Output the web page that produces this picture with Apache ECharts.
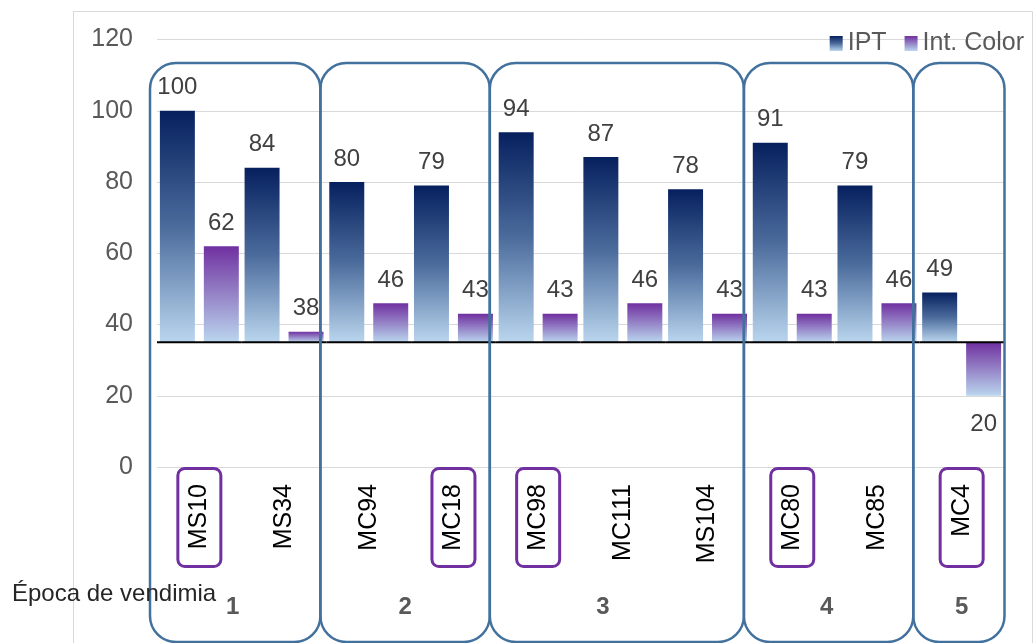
<!DOCTYPE html>
<html>
<head>
<meta charset="utf-8">
<script src="https://cdn.jsdelivr.net/npm/echarts@6/dist/echarts.min.js"></script>
<style>
  html, body { margin: 0; padding: 0; background: #fff; }
  #chart { width: 1034px; height: 643px; }
</style>
</head>
<body>
<div id="chart"></div>
<script>
// Clones and their values
const categories = ['MS10', 'MS34', 'MC94', 'MC18', 'MC98', 'MC111', 'MS104', 'MC80', 'MC85', 'MC4'];
const iptValues = [100, 84, 80, 79, 94, 87, 78, 91, 79, 49];
const colorValues = [62, 38, 46, 43, 43, 46, 43, 43, 46, 20];
const seriesNames = ['IPT', 'Int. Color'];

// Clones framed in purple
const highlighted = ['MS10', 'MC18', 'MC98', 'MC80', 'MC4'];

// Harvest periods: label and number of clones in each
const groupLabels = ['1', '2', '3', '4', '5'];
const groupSizes = [2, 2, 3, 2, 1];

// Value axis ticks and the level the bars grow from
const yTicks = [0, 20, 40, 60, 80, 100, 120];
const baseline = 35;

const FONT = '"Liberation Sans", Arial, sans-serif';

const iptFill = {
  type: 'linear', x: 0, y: 0, x2: 0, y2: 1,
  colorStops: [
    { offset: 0, color: '#06205e' },
    { offset: 0.5, color: '#4b6b9c' },
    { offset: 1, color: '#bad6ee' }
  ]
};
const colorFill = {
  type: 'linear', x: 0, y: 0, x2: 0, y2: 1,
  colorStops: [
    { offset: 0, color: '#7030a0' },
    { offset: 1, color: '#bad6ee' }
  ]
};

// Bars drawn from the baseline level to each value; side -1 = left bar, +1 = right bar
function barRenderer(side, fill, withBaseline) {
  return function (params, api) {
    const i = api.value(0);
    const v = api.value(1);
    const base = api.coord([i, baseline]);
    const end = api.coord([i, v]);
    const band = api.size([1, 0])[0];
    const w = band * 0.413;
    const half = band * 0.053;
    const x = side < 0 ? base[0] - half - w : base[0] + half;
    const y = Math.min(base[1], end[1]);
    const h = Math.abs(base[1] - end[1]);
    const up = v >= baseline;
    const children = [
      { type: 'rect', shape: { x: x, y: y, width: w, height: h }, style: { fill: fill } },
      {
        type: 'text',
        style: {
          text: String(v), x: x + w / 2, y: up ? end[1] - 23 : end[1] + 29,
          align: 'center', verticalAlign: 'middle',
          font: '24px ' + FONT, fill: '#404040'
        }
      }
    ];
    if (withBaseline) {
      children.push({
        type: 'line', z2: 50,
        shape: { x1: base[0] - band / 2, y1: base[1], x2: base[0] + band / 2, y2: base[1] },
        style: { stroke: '#000', lineWidth: 2 }
      });
    }
    return { type: 'group', children: children };
  };
}

const chart = echarts.init(document.getElementById('chart'));

chart.setOption({
  animation: false,
  backgroundColor: '#fff',
  grid: { left: 157, right: 30, top: 39.5, bottom: 176 },
  legend: {
    data: seriesNames,
    right: 5, top: 26,
    icon: 'rect', itemWidth: 13, itemHeight: 15, itemGap: 18,
    textStyle: { fontFamily: FONT, fontSize: 25, color: '#595959' }
  },
  xAxis: {
    type: 'category',
    data: categories,
    axisLine: { show: false },
    axisTick: { show: false },
    axisLabel: {
      rotate: 90, margin: 17, interval: 0,
      fontFamily: FONT, fontSize: 25, color: '#000'
    }
  },
  yAxis: {
    type: 'value',
    min: yTicks[0], max: yTicks[yTicks.length - 1], interval: yTicks[1] - yTicks[0],
    axisLine: { show: false },
    axisTick: { show: false },
    splitLine: { lineStyle: { color: '#d9d9d9', width: 1 } },
    axisLabel: {
      margin: 24, padding: [5, 0, 0, 0],
      fontFamily: FONT, fontSize: 25, color: '#595959'
    }
  },
  series: [
    {
      name: seriesNames[0], type: 'custom',
      itemStyle: { color: iptFill },
      encode: { x: 0, y: 1 },
      data: iptValues.map((v, i) => [i, v]),
      renderItem: barRenderer(-1, iptFill, true)
    },
    {
      name: seriesNames[1], type: 'custom',
      itemStyle: { color: colorFill },
      encode: { x: 0, y: 1 },
      data: colorValues.map((v, i) => [i, v]),
      renderItem: barRenderer(1, colorFill, false)
    }
  ]
});

// Frames, period boxes and period labels placed from the axis positions
function drawOverlays() {
  const px = (i, v) => chart.convertToPixel({ gridIndex: 0 }, [i, v]);
  const band = px(1, 0)[0] - px(0, 0)[0];
  const left0 = px(0, 0)[0] - band / 2;
  const axisY = px(0, 0)[1];
  const n = categories.length;
  const edgeShift = k => (k === 0 ? -7 : (k === n ? 0.5 : -6));
  const labelShift = [-9, -6, -20, -8, 0];
  const els = [];

  els.push({
    type: 'rect', z: -10, silent: true,
    shape: { x: 73.5, y: 11.5, width: 959, height: 700 },
    style: { fill: null, stroke: '#d9d9d9', lineWidth: 1 }
  });

  let start = 0;
  groupSizes.forEach((size, g) => {
    const end = start + size;
    const xL = left0 + start * band + edgeShift(start);
    const xR = left0 + end * band + edgeShift(end);
    els.push({
      type: 'rect', z: 20, silent: true,
      shape: { x: xL, y: 63, width: xR - xL, height: 579, r: 26 },
      style: { fill: null, stroke: '#41719c', lineWidth: 2.5 }
    });
    const cx = left0 + (start + end) / 2 * band + labelShift[g];
    els.push({
      type: 'text', z: 20, silent: true,
      style: {
        text: groupLabels[g], x: cx, y: 607, align: 'center', verticalAlign: 'middle',
        font: 'bold 24px ' + FONT, fill: '#595959'
      }
    });
    start = end;
  });

  highlighted.forEach(name => {
    const i = categories.indexOf(name);
    const cx = px(i, 0)[0];
    els.push({
      type: 'rect', z: 20, silent: true,
      shape: { x: cx - 21.5, y: axisY + 1.5, width: 43, height: 98, r: 7 },
      style: { fill: null, stroke: '#7030a0', lineWidth: 3 }
    });
  });

  els.push({
    type: 'text', z: 20, silent: true,
    style: {
      text: 'Época de vendimia', x: 12, y: 594, align: 'left', verticalAlign: 'middle',
      font: '24px ' + FONT, fill: '#262626'
    }
  });

  chart.setOption({ graphic: { elements: els } });
}
drawOverlays();
</script>
</body>
</html>
